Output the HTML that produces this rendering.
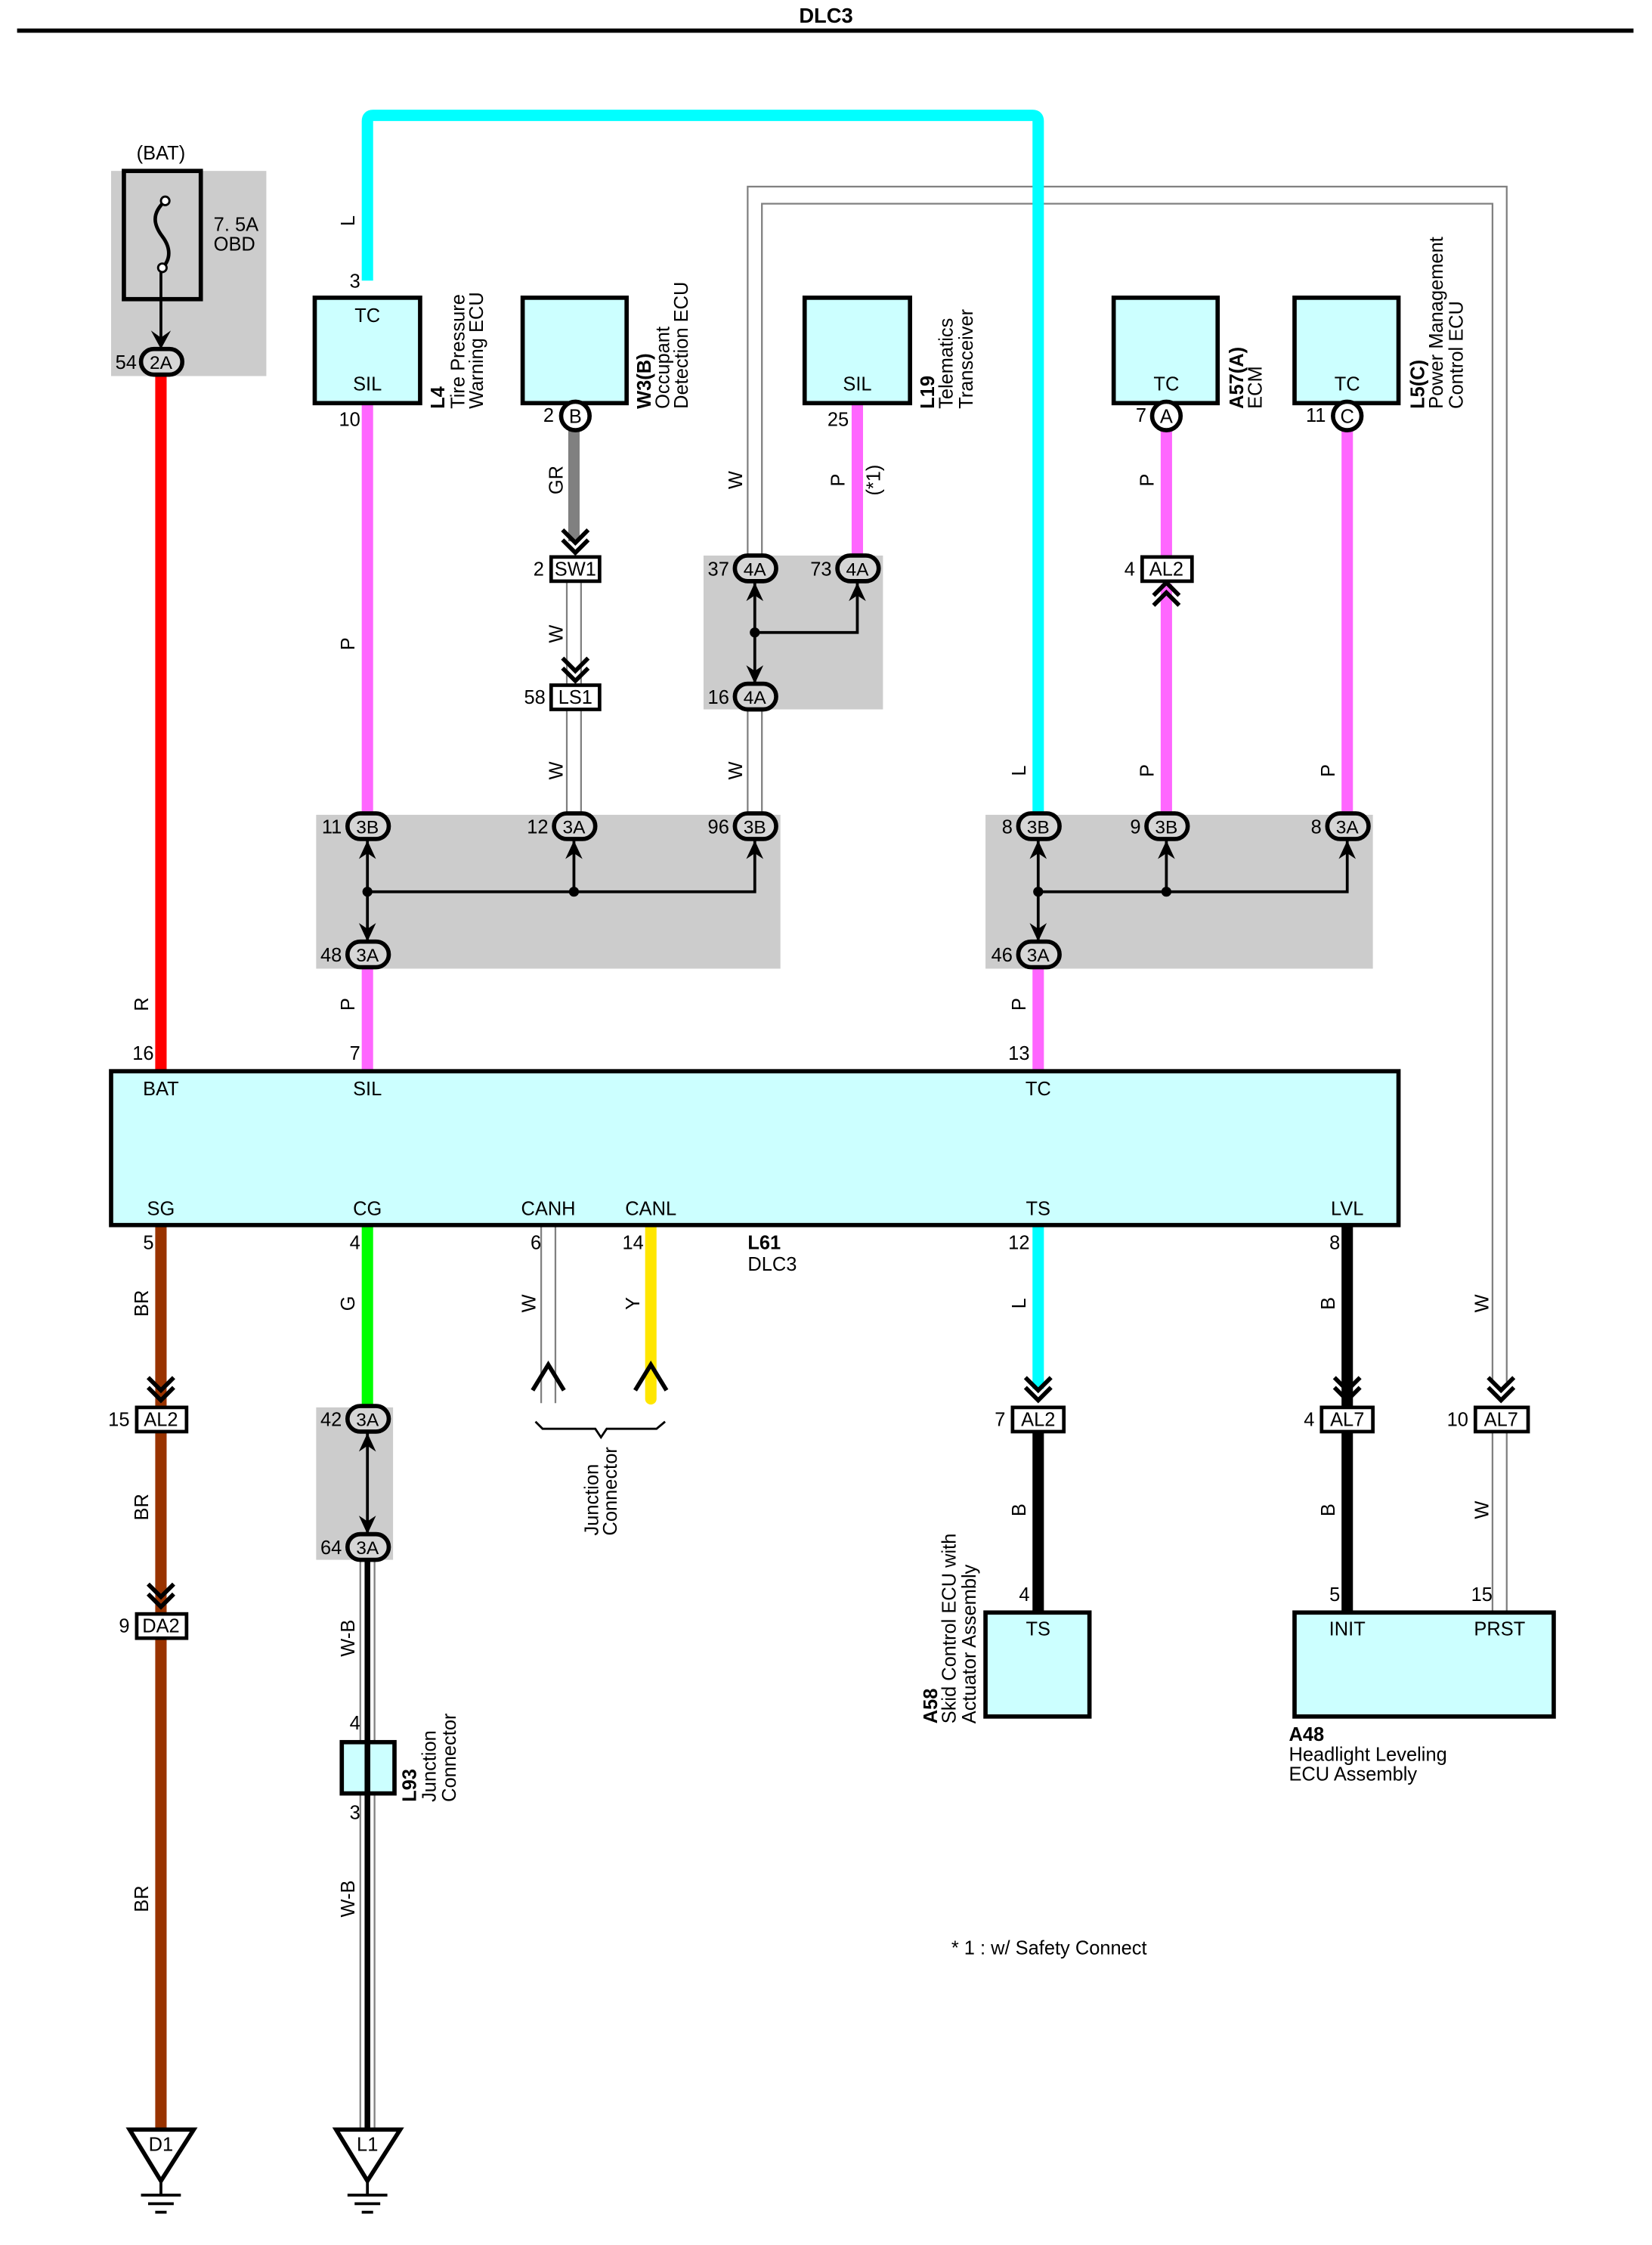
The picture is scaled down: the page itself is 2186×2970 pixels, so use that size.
<!DOCTYPE html>
<html><head><meta charset="utf-8"><style>
html,body{margin:0;padding:0;background:#fff;overflow:hidden;width:2186px;height:2970px}
svg{display:block}
text{font-family:"Liberation Sans",Arial,sans-serif;font-size:13.5px;fill:#000}
.c{text-anchor:middle}
.b{font-weight:bold}
</style></head><body>
<svg width="2186" height="2970" viewBox="0 0 1160 1576" preserveAspectRatio="none" xmlns="http://www.w3.org/2000/svg">
<rect width="1160" height="1576" fill="#fff"/>
<text x="580" y="16" class="c b" style="font-size:14.5px">DLC3</text>
<rect x="12" y="20" width="1135" height="3" fill="#000"/>

<rect x="78" y="120" width="109" height="144" fill="#cccccc"/>
<rect x="494" y="390" width="126" height="108" fill="#cccccc"/>
<rect x="222" y="572" width="326" height="108" fill="#cccccc"/>
<rect x="692" y="572" width="272" height="108" fill="#cccccc"/>
<rect x="222" y="988" width="54" height="107" fill="#cccccc"/>

<g fill="none" stroke="#808080" stroke-width="1.2">
<path d="M525 390 V131 H1058 V970"/>
<path d="M535 390 V143 H1048 V970"/>
<path d="M525 498 V572 M535 498 V572"/>
<path d="M398 408 V481 M408 408 V481 M398 498 V572 M408 498 V572"/>
<path d="M380 860 V985 M390 860 V985"/>
<path d="M1048 1005 V1132 M1058 1005 V1132"/>
<path d="M253 1095 V1500 M263 1095 V1500"/>
</g>
<rect x="256" y="1095" width="4" height="405" fill="#000"/>

<path d="M258 197 V85 Q258 81 262 81 H725 Q729 81 729 85 V572" fill="none" stroke="#00ffff" stroke-width="8"/>
<rect x="109" y="264" width="8" height="488" fill="#ff0000"/>
<rect x="254" y="283" width="8" height="289" fill="#ff66ff"/>
<rect x="254" y="680" width="8" height="72" fill="#ff66ff"/>
<rect x="725" y="680" width="8" height="72" fill="#ff66ff"/>
<rect x="399" y="300" width="8" height="80" fill="#808080"/>
<rect x="598" y="283" width="8" height="108" fill="#ff66ff"/>
<rect x="815" y="300" width="8" height="90" fill="#ff66ff"/>
<rect x="815" y="410" width="8" height="162" fill="#ff66ff"/>
<rect x="942" y="300" width="8" height="272" fill="#ff66ff"/>
<rect x="109" y="860" width="8" height="640" fill="#993300"/>
<rect x="254" y="860" width="8" height="128" fill="#00ff00"/>
<path d="M457 860 V982" stroke="#ffe600" stroke-width="8" stroke-linecap="round"/>
<rect x="725" y="860" width="8" height="115" fill="#00ffff"/>
<rect x="725" y="1005" width="8" height="127" fill="#000"/>
<rect x="942" y="860" width="8" height="272" fill="#000"/>

<rect x="87" y="120" width="54" height="90" fill="none" stroke="#000" stroke-width="3"/>
<path d="M116 141 C106 150 108 158 114 166 C120 174 120 182 114 188" fill="none" stroke="#000" stroke-width="2.5"/>
<circle cx="116" cy="141" r="3" fill="#fff" stroke="#000" stroke-width="1.5"/>
<circle cx="114" cy="188" r="3" fill="#fff" stroke="#000" stroke-width="1.5"/>
<path d="M113 191 V240" stroke="#000" stroke-width="2"/>
<path d="M113 245 L106 232 L113 237 L120 232 Z" fill="#000"/>
<text x="113" y="112" class="c">(BAT)</text>
<text x="150" y="162">7. 5A</text>
<text x="150" y="176">OBD</text>

<g fill="#ccffff" stroke="#000" stroke-width="3">
<rect x="221" y="209" width="74" height="74"/>
<rect x="367" y="209" width="73" height="74"/>
<rect x="565" y="209" width="74" height="74"/>
<rect x="782" y="209" width="73" height="74"/>
<rect x="909" y="209" width="73" height="74"/>
<rect x="78" y="752" width="904" height="108"/>
<rect x="240" y="1223" width="37" height="36"/>
<rect x="692" y="1132" width="73" height="73"/>
<rect x="909" y="1132" width="182" height="73"/>
</g>
<rect x="256" y="1223" width="4" height="36" fill="#000"/>

<text x="258" y="226" class="c">TC</text>
<text x="258" y="274" class="c">SIL</text>
<text x="602" y="274" class="c">SIL</text>
<text x="819" y="274" class="c">TC</text>
<text x="946" y="274" class="c">TC</text>
<text x="113" y="769" class="c">BAT</text>
<text x="258" y="769" class="c">SIL</text>
<text x="729" y="769" class="c">TC</text>
<text x="113" y="853" class="c">SG</text>
<text x="258" y="853" class="c">CG</text>
<text x="385" y="853" class="c">CANH</text>
<text x="457" y="853" class="c">CANL</text>
<text x="729" y="853" class="c">TS</text>
<text x="946" y="853" class="c">LVL</text>
<text x="729" y="1148" class="c">TS</text>
<text x="946" y="1148" class="c">INIT</text>
<text x="1053" y="1148" class="c">PRST</text>
<text x="525" y="877" class="b">L61</text>
<text x="525" y="892">DLC3</text>
<text x="905" y="1222" class="b">A48</text>
<text x="905" y="1236">Headlight Leveling</text>
<text x="905" y="1250">ECU Assembly</text>
<text x="668" y="1372">* 1 : w/ Safety Connect</text>

<g>
<text transform="translate(312,287) rotate(-90)" class="b">L4</text>
<text transform="translate(326,287) rotate(-90)">Tire Pressure</text>
<text transform="translate(339,287) rotate(-90)">Warning ECU</text>
<text transform="translate(457,287) rotate(-90)" class="b">W3(B)</text>
<text transform="translate(470,287) rotate(-90)">Occupant</text>
<text transform="translate(483,287) rotate(-90)">Detection ECU</text>
<text transform="translate(656,287) rotate(-90)" class="b">L19</text>
<text transform="translate(669,287) rotate(-90)">Telematics</text>
<text transform="translate(683,287) rotate(-90)">Transceiver</text>
<text transform="translate(873,287) rotate(-90)" class="b">A57(A)</text>
<text transform="translate(886,287) rotate(-90)">ECM</text>
<text transform="translate(1000,287) rotate(-90)" class="b">L5(C)</text>
<text transform="translate(1013,287) rotate(-90)">Power Management</text>
<text transform="translate(1027,287) rotate(-90)">Control ECU</text>
<text transform="translate(292,1265) rotate(-90)" class="b">L93</text>
<text transform="translate(306,1265) rotate(-90)">Junction</text>
<text transform="translate(320,1265) rotate(-90)">Connector</text>
<text transform="translate(658,1210) rotate(-90)" class="b">A58</text>
<text transform="translate(671,1210) rotate(-90)">Skid Control ECU with</text>
<text transform="translate(685,1210) rotate(-90)">Actuator Assembly</text>
<text transform="translate(420,1078) rotate(-90)">Junction</text>
<text transform="translate(433,1078) rotate(-90)">Connector</text>
</g>

<g>
<text transform="translate(249,155) rotate(-90)" class="c">L</text>
<text transform="translate(249,452) rotate(-90)" class="c">P</text>
<text transform="translate(249,705) rotate(-90)" class="c">P</text>
<text transform="translate(104,705) rotate(-90)" class="c">R</text>
<text transform="translate(395,337) rotate(-90)" class="c">GR</text>
<text transform="translate(395,445) rotate(-90)" class="c">W</text>
<text transform="translate(395,541) rotate(-90)" class="c">W</text>
<text transform="translate(521,337) rotate(-90)" class="c">W</text>
<text transform="translate(521,541) rotate(-90)" class="c">W</text>
<text transform="translate(593,337) rotate(-90)" class="c">P</text>
<text transform="translate(618,337) rotate(-90)" class="c">(*1)</text>
<text transform="translate(720,541) rotate(-90)" class="c">L</text>
<text transform="translate(810,337) rotate(-90)" class="c">P</text>
<text transform="translate(810,541) rotate(-90)" class="c">P</text>
<text transform="translate(937,541) rotate(-90)" class="c">P</text>
<text transform="translate(720,705) rotate(-90)" class="c">P</text>
<text transform="translate(104,915) rotate(-90)" class="c">BR</text>
<text transform="translate(104,1058) rotate(-90)" class="c">BR</text>
<text transform="translate(104,1333) rotate(-90)" class="c">BR</text>
<text transform="translate(249,915) rotate(-90)" class="c">G</text>
<text transform="translate(249,1150) rotate(-90)" class="c">W-B</text>
<text transform="translate(249,1333) rotate(-90)" class="c">W-B</text>
<text transform="translate(376,915) rotate(-90)" class="c">W</text>
<text transform="translate(449,915) rotate(-90)" class="c">Y</text>
<text transform="translate(720,915) rotate(-90)" class="c">L</text>
<text transform="translate(720,1060) rotate(-90)" class="c">B</text>
<text transform="translate(937,915) rotate(-90)" class="c">B</text>
<text transform="translate(937,1060) rotate(-90)" class="c">B</text>
<text transform="translate(1045,915) rotate(-90)" class="c">W</text>
<text transform="translate(1045,1060) rotate(-90)" class="c">W</text>
</g>

<g style="text-anchor:end">
<text x="253" y="202">3</text>
<text x="253" y="299">10</text>
<text x="389" y="296">2</text>
<text x="596" y="299">25</text>
<text x="805" y="296">7</text>
<text x="931" y="296">11</text>
<text x="108" y="744">16</text>
<text x="253" y="744">7</text>
<text x="723" y="744">13</text>
<text x="108" y="877">5</text>
<text x="253" y="877">4</text>
<text x="380" y="877">6</text>
<text x="452" y="877">14</text>
<text x="723" y="877">12</text>
<text x="941" y="877">8</text>
<text x="723" y="1124">4</text>
<text x="941" y="1124">5</text>
<text x="1048" y="1124">15</text>
<text x="253" y="1214">4</text>
<text x="253" y="1277">3</text>
</g>

<g fill="#fff" stroke="#000" stroke-width="2.5">
<rect x="387" y="391" width="34" height="17"/>
<rect x="387" y="481" width="34" height="17"/>
<rect x="802" y="391" width="35" height="17"/>
<rect x="96" y="988" width="35" height="17"/>
<rect x="96" y="1133" width="35" height="17"/>
<rect x="711" y="988" width="36" height="17"/>
<rect x="928" y="988" width="36" height="17"/>
<rect x="1036" y="988" width="37" height="17"/>
</g>
<g>
<text x="404" y="404" class="c">SW1</text>
<text x="404" y="494" class="c">LS1</text>
<text x="819" y="404" class="c">AL2</text>
<text x="113" y="1001" class="c">AL2</text>
<text x="113" y="1146" class="c">DA2</text>
<text x="729" y="1001" class="c">AL2</text>
<text x="946" y="1001" class="c">AL7</text>
<text x="1054" y="1001" class="c">AL7</text>
</g>
<g style="text-anchor:end">
<text x="382" y="404">2</text>
<text x="383" y="494">58</text>
<text x="797" y="404">4</text>
<text x="91" y="1001">15</text>
<text x="91" y="1146">9</text>
<text x="706" y="1001">7</text>
<text x="923" y="1001">4</text>
<text x="1031" y="1001">10</text>
</g>

<g fill="none" stroke="#000" stroke-width="3">
<path d="M395 372 L404 381 L413 372 M395 379 L404 388 L413 379"/>
<path d="M395 462 L404 471 L413 462 M395 469 L404 478 L413 469"/>
<path d="M810 425 L819 416 L828 425 M810 418 L819 409 L828 418"/>
<path d="M104 967 L113 976 L122 967 M104 974 L113 983 L122 974"/>
<path d="M104 1112 L113 1121 L122 1112 M104 1119 L113 1128 L122 1119"/>
<path d="M720 967 L729 976 L738 967 M720 974 L729 983 L738 974"/>
<path d="M937 967 L946 976 L955 967 M937 974 L946 983 L955 974"/>
<path d="M1045 967 L1054 976 L1063 967 M1045 974 L1054 983 L1063 974"/>
<path d="M374 976 L385 958 L396 976"/>
<path d="M446 976 L457 958 L468 976"/>
<path d="M376 998 L381 1003 H418 L422 1009 L426 1003 H461 L467 998" stroke-width="1.5"/>
</g>

<g fill="#fff" stroke="#000" stroke-width="3">
<ellipse cx="404" cy="292" rx="10" ry="10"/>
<ellipse cx="819" cy="292" rx="10" ry="10"/>
<ellipse cx="946" cy="292" rx="10" ry="10"/>
</g>
<text x="404" y="297" class="c">B</text>
<text x="819" y="297" class="c">A</text>
<text x="946" y="297" class="c">C</text>

<g fill="none" stroke="#000" stroke-width="2">
<path d="M530 408 V480 M530 444 H602 V408"/>
<path d="M258 589 V661 M258 626 H530 V589 M403 626 V589"/>
<path d="M729 589 V661 M729 626 H946 V589 M819 626 V589"/>
<path d="M258 1005 V1077"/>
</g>
<g fill="#000">
<circle cx="530" cy="444" r="3.5"/>
<circle cx="258" cy="626" r="3.5"/><circle cx="403" cy="626" r="3.5"/>
<circle cx="729" cy="626" r="3.5"/><circle cx="819" cy="626" r="3.5"/>
<path d="M530 409 L524 422 L530 418 L536 422 Z"/>
<path d="M602 409 L596 422 L602 418 L608 422 Z"/>
<path d="M258 590 L252 603 L258 599 L264 603 Z"/>
<path d="M403 590 L397 603 L403 599 L409 603 Z"/>
<path d="M530 590 L524 603 L530 599 L536 603 Z"/>
<path d="M729 590 L723 603 L729 599 L735 603 Z"/>
<path d="M819 590 L813 603 L819 599 L825 603 Z"/>
<path d="M946 590 L940 603 L946 599 L952 603 Z"/>
<path d="M258 1006 L252 1019 L258 1015 L264 1019 Z"/>
<path d="M530 480 L524 467 L530 471 L536 467 Z"/>
<path d="M258 661 L252 648 L258 652 L264 648 Z"/>
<path d="M729 661 L723 648 L729 652 L735 648 Z"/>
<path d="M258 1077 L252 1064 L258 1068 L264 1064 Z"/>
</g>

<g fill="#d6d6d6" stroke="#000" stroke-width="3">
<rect x="99" y="245" width="29" height="18" rx="9"/>
<rect x="516" y="390" width="29" height="18" rx="9"/>
<rect x="588" y="390" width="29" height="18" rx="9"/>
<rect x="516" y="480" width="29" height="18" rx="9"/>
<rect x="244" y="571" width="29" height="18" rx="9"/>
<rect x="389" y="571" width="29" height="18" rx="9"/>
<rect x="516" y="571" width="29" height="18" rx="9"/>
<rect x="244" y="661" width="29" height="18" rx="9"/>
<rect x="715" y="571" width="29" height="18" rx="9"/>
<rect x="805" y="571" width="29" height="18" rx="9"/>
<rect x="932" y="571" width="29" height="18" rx="9"/>
<rect x="715" y="661" width="29" height="18" rx="9"/>
<rect x="244" y="987" width="29" height="18" rx="9"/>
<rect x="244" y="1077" width="29" height="18" rx="9"/>
</g>
<g style="font-size:13px">
<text x="113" y="259" class="c" style="font-size:13px">2A</text>
<text x="530" y="404" class="c" style="font-size:13px">4A</text>
<text x="602" y="404" class="c" style="font-size:13px">4A</text>
<text x="530" y="494" class="c" style="font-size:13px">4A</text>
<text x="258" y="585" class="c" style="font-size:13px">3B</text>
<text x="403" y="585" class="c" style="font-size:13px">3A</text>
<text x="530" y="585" class="c" style="font-size:13px">3B</text>
<text x="258" y="675" class="c" style="font-size:13px">3A</text>
<text x="729" y="585" class="c" style="font-size:13px">3B</text>
<text x="819" y="585" class="c" style="font-size:13px">3B</text>
<text x="946" y="585" class="c" style="font-size:13px">3A</text>
<text x="729" y="675" class="c" style="font-size:13px">3A</text>
<text x="258" y="1001" class="c" style="font-size:13px">3A</text>
<text x="258" y="1091" class="c" style="font-size:13px">3A</text>
</g>
<g style="text-anchor:end">
<text x="96" y="259">54</text>
<text x="512" y="404">37</text>
<text x="584" y="404">73</text>
<text x="512" y="494">16</text>
<text x="240" y="585">11</text>
<text x="385" y="585">12</text>
<text x="512" y="585">96</text>
<text x="240" y="675">48</text>
<text x="711" y="585">8</text>
<text x="801" y="585">9</text>
<text x="928" y="585">8</text>
<text x="711" y="675">46</text>
<text x="240" y="1001">42</text>
<text x="240" y="1091">64</text>
</g>

<g fill="#fff" stroke="#000" stroke-width="3">
<path d="M91 1495 H136 L113 1531 Z"/>
<path d="M236 1495 H281 L258 1531 Z"/>
</g>
<g stroke="#000" stroke-width="2">
<path d="M113 1531 V1541 M99 1541 H127 M104 1547 H122 M109 1553 H117"/>
<path d="M258 1531 V1541 M244 1541 H272 M249 1547 H267 M254 1553 H262"/>
</g>
<text x="113" y="1510" class="c">D1</text>
<text x="258" y="1510" class="c">L1</text>
</svg>
</body></html>
